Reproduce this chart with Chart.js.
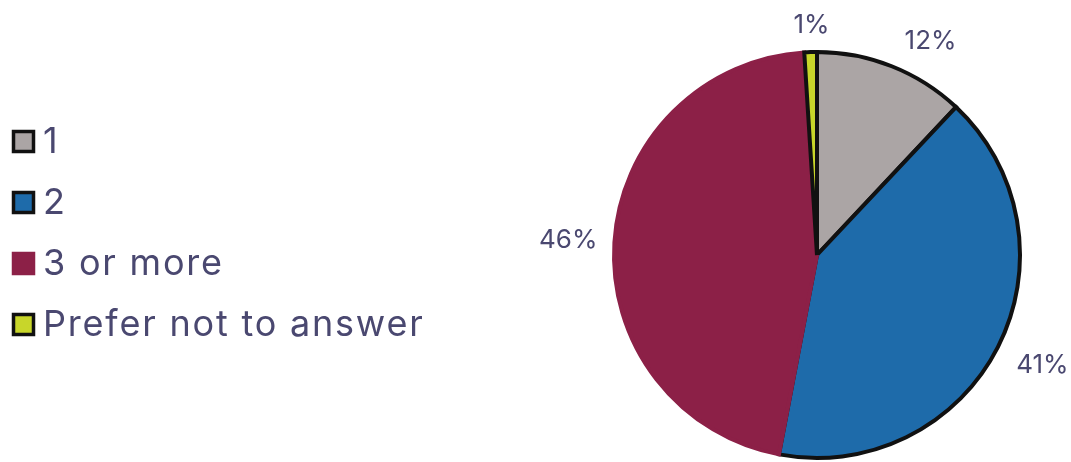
<!DOCTYPE html>
<html>
<head>
<meta charset="utf-8">
<script src="https://cdn.jsdelivr.net/npm/chart.js@4"></script>
<style>
  html, body { margin: 0; padding: 0; background: #ffffff; }
  #wrap { position: relative; width: 1071px; height: 462px; }
</style>
</head>
<body>
<div id="wrap"><canvas id="pie" width="1071" height="462"></canvas></div>
<script>
// Number of children per household – share of respondents (%)
const categories = ['1', '2', '3 or more', 'Prefer not to answer'];
const shares = [12, 41, 46, 1];

// Slice styling
const sliceColors = ['#aba5a5', '#1e6baa', '#8c2047', '#c8d62a'];
const sliceBorders = ['#111111', '#111111', '#8c2047', '#111111'];
// Small pixel nudges for the percentage labels [dx, dy]
const labelNudge = [[23, 0], [6, 6], [0, 0], [2, 0]];

const TEXT_COLOR = '#4a4870';
const FONT_FAMILY = 'Inter, "Open Sans", sans-serif';

// Percentage labels placed just outside each slice
const outsideLabels = {
  id: 'outsideLabels',
  afterDatasetsDraw(chart) {
    const ctx = chart.ctx;
    const meta = chart.getDatasetMeta(0);
    const data = chart.data.datasets[0].data;
    const total = data.reduce((a, b) => a + b, 0);
    ctx.save();
    ctx.font = '400 26px ' + FONT_FAMILY;
    ctx.fillStyle = TEXT_COLOR;
    ctx.textAlign = 'center';
    ctx.textBaseline = 'middle';
    meta.data.forEach((arc, i) => {
      const p = arc.getProps(['x', 'y', 'startAngle', 'endAngle', 'outerRadius'], true);
      const mid = (p.startAngle + p.endAngle) / 2;
      const dx = Math.cos(mid), dy = Math.sin(mid);
      const text = Math.round(data[i] / total * 100) + '%';
      const w = ctx.measureText(text).width;
      const h = 20;
      const r = p.outerRadius + 17;
      const cx = p.x + dx * r + dx * w / 2 + labelNudge[i][0];
      const cy = p.y + dy * r + dy * h / 2 + labelNudge[i][1];
      ctx.fillText(text, cx, cy);
    });
    ctx.restore();
  }
};

// Legend on the left: framed colour squares with category names
const sideLegend = {
  id: 'sideLegend',
  afterDraw(chart) {
    const ctx = chart.ctx;
    const ds = chart.data.datasets[0];
    const labels = chart.data.labels;
    const rowGap = 61;
    const firstRow = 141.5;
    const boxSize = 20;
    ctx.save();
    ctx.font = '400 36px ' + FONT_FAMILY;
    ctx.letterSpacing = '1.8px';
    ctx.textBaseline = 'middle';
    ctx.textAlign = 'left';
    labels.forEach((label, i) => {
      const cy = firstRow + i * rowGap;
      ctx.fillStyle = ds.backgroundColor[i];
      ctx.fillRect(13.5, cy - boxSize / 2, boxSize, boxSize);
      ctx.lineWidth = 3.5;
      ctx.strokeStyle = ds.borderColor[i];
      ctx.strokeRect(13.5, cy - boxSize / 2, boxSize, boxSize);
      ctx.fillStyle = TEXT_COLOR;
      ctx.fillText(label, 43, cy + 1);
    });
    ctx.restore();
  }
};

new Chart(document.getElementById('pie'), {
  type: 'pie',
  data: {
    labels: categories,
    datasets: [{
      data: shares,
      backgroundColor: sliceColors,
      borderColor: sliceBorders,
      borderWidth: 4,
      hoverOffset: 0,
      borderJoinStyle: 'miter'
    }]
  },
  options: {
    responsive: false,
    devicePixelRatio: 1,
    animation: false,
    layout: { padding: { left: 563, right: 0, top: 50, bottom: 2 } },
    plugins: {
      legend: { display: false },
      tooltip: { enabled: false }
    }
  },
  plugins: [outsideLabels, sideLegend]
});
</script>
</body>
</html>
